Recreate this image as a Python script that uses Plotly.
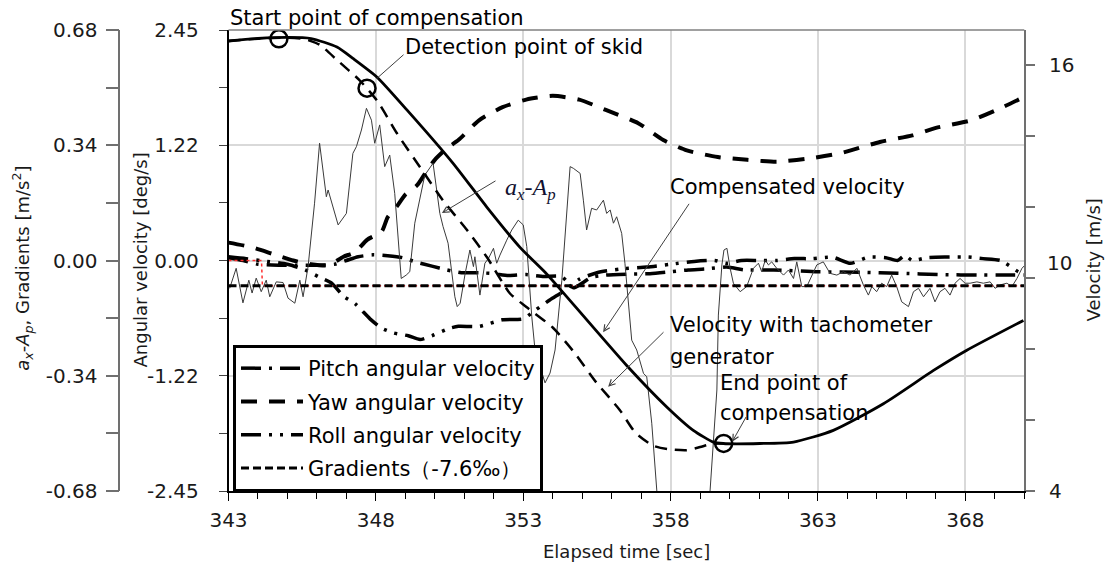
import plotly.graph_objects as go

# ---------------- data ----------------
# a_x - A_p  [m/s^2]  (outer left axis)
t_acc = [343.04, 343.26, 343.49, 343.69, 343.80, 343.94, 344.11, 344.28, 344.40, 344.62,
         344.85, 345.02, 345.25, 345.42, 345.53, 345.70, 345.92, 346.09, 346.32, 346.38,
         346.72, 347.00, 347.22, 347.34, 347.51, 347.68, 347.85, 347.96, 348.13, 348.30,
         348.47, 348.64, 348.86, 349.03, 349.15, 349.32, 349.66, 349.94, 350.17, 350.28,
         350.45, 350.68, 350.76, 350.86, 351.03, 351.19, 351.31, 351.36, 351.53, 351.70,
         351.82, 351.99, 352.10, 352.21, 352.44, 352.61, 352.83, 353.00, 353.12, 353.29,
         353.40, 353.74, 353.91, 354.08, 354.31, 354.59, 354.70, 354.93, 355.04, 355.15,
         355.32, 355.49, 355.72, 355.83, 355.95, 356.06, 356.17, 356.34, 356.45, 356.57,
         356.68, 356.85, 357.08, 357.19, 357.36, 357.53, 357.90, 358.50, 359.10, 359.34,
         359.57, 359.62, 359.74, 359.81, 359.91, 360.02, 360.13, 360.36, 360.58, 360.81,
         360.98, 361.09, 361.21, 361.32, 361.43, 361.60, 361.83, 362.00, 362.17, 362.28,
         362.45, 362.62, 362.79, 362.96, 363.18, 363.41, 363.64, 363.86, 364.09, 364.32,
         364.54, 364.71, 364.83, 364.99, 365.16, 365.33, 365.50, 365.67, 365.84, 366.07,
         366.24, 366.41, 366.58, 366.80, 366.97, 367.14, 367.31, 367.48, 367.65, 367.82,
         367.99, 368.16, 368.39, 368.61, 368.84, 369.01, 369.18, 369.41, 369.58, 369.75,
         369.92, 370.03]
acc = [-0.082, -0.023, -0.125, -0.058, -0.096, -0.052, -0.092, -0.058, -0.107, -0.063,
       -0.065, -0.111, -0.126, -0.058, -0.107, -0.018, 0.169, 0.346, 0.188, 0.208,
       0.105, 0.139, 0.316, 0.336, 0.385, 0.449, 0.414, 0.346, 0.400, 0.277,
       0.311, 0.198, -0.053, -0.043, -0.033, 0.110, 0.252, 0.287, 0.139, 0.100,
       0.051, -0.107, -0.136, -0.126, -0.038, 0.031, -0.018, 0.011, -0.102, -0.008,
       0.006, 0.036, -0.008, 0.016, 0.060, 0.090, 0.119, 0.105, 0.041, -0.166,
       -0.264, -0.361, -0.332, -0.264, -0.058, 0.277, 0.272, 0.257, 0.178, 0.090,
       0.154, 0.149, 0.178, 0.139, 0.149, 0.110, 0.129, 0.080, -0.008, -0.126,
       -0.235, -0.264, -0.333, -0.343, -0.480, -0.677, -1.100, -1.300, -1.050, -0.677,
       -0.382, -0.161, -0.013, 0.031, 0.036, -0.023, -0.067, -0.092, -0.077, -0.023,
       -0.008, -0.033, 0.001, -0.013, -0.004, -0.023, -0.043, -0.028, -0.053, -0.004,
       -0.077, -0.077, -0.043, -0.013, -0.004, -0.038, -0.043, -0.033, -0.043, -0.023,
       -0.072, -0.102, -0.077, -0.092, -0.067, -0.077, -0.043, -0.077, -0.122, -0.136,
       -0.092, -0.082, -0.107, -0.082, -0.122, -0.092, -0.082, -0.102, -0.067, -0.053,
       -0.067, -0.067, -0.063, -0.067, -0.063, -0.082, -0.072, -0.067, -0.077, -0.053,
       -0.023, -0.013]

# track gradient -7.6 per mille -> g * 0.0076
gradient = -0.0745
t_grad = [343, 370]
t_ref = [343, 344.12, 344.15, 370]
ref_acc = [0, 0, gradient, gradient]

# compensated velocity [m/s]
t_vc = [343.0, 344.0, 345.0, 345.8, 346.68, 347.22, 348.04, 349.06, 350.62, 351.77,
        352.89, 353.74, 354.14, 356.51, 357.87, 358.77, 359.45, 359.79, 361.03, 362.17,
        363.52, 365.22, 366.92, 368.05, 369.97]
v_comp = [16.69, 16.76, 16.79, 16.76, 16.52, 16.20, 15.67, 14.74, 13.24, 12.00,
          10.87, 10.17, 9.80, 7.54, 6.37, 5.71, 5.38, 5.34, 5.34, 5.38,
          5.71, 6.46, 7.40, 7.97, 8.81]

# velocity with tachometer generator [m/s]
t_vt = [343.0, 344.0, 345.0, 345.6, 346.1, 346.7, 347.45, 348.04, 348.72, 349.5,
        350.28, 351.1, 351.77, 352.55, 353.12, 354.0, 354.68, 355.47, 356.28, 356.8,
        357.4, 357.9, 358.55, 359.0, 359.4, 359.8]
v_tach = [16.69, 16.76, 16.78, 16.74, 16.58, 16.14, 15.58, 15.01, 14.08, 13.13,
          12.19, 11.35, 10.59, 9.57, 9.18, 8.61, 7.96, 7.07, 6.28, 5.65,
          5.28, 5.18, 5.15, 5.24, 5.33, 5.35]

# yaw angular velocity [deg/s]
t_yaw = [343.0, 343.8, 344.5, 345.2, 345.8, 346.4, 346.9, 347.3, 347.7, 348.2,
         348.4, 348.7, 349.0, 349.4, 349.7, 350.0, 350.4, 350.8, 351.5, 352.3,
         353.1, 354.0, 354.9, 355.8, 356.9, 357.75, 358.55, 359.6, 360.6, 361.6,
         362.6, 363.75, 365.1, 366.2, 367.0, 368.2, 369.2, 370.0]
yaw = [0.19, 0.14, 0.07, 0.00, -0.04, -0.05, 0.04, 0.09, 0.22, 0.31,
       0.46, 0.57, 0.70, 0.80, 0.94, 1.07, 1.19, 1.28, 1.49, 1.63,
       1.71, 1.75, 1.71, 1.60, 1.46, 1.28, 1.17, 1.10, 1.07, 1.05,
       1.08, 1.14, 1.26, 1.33, 1.41, 1.49, 1.62, 1.74]

# pitch angular velocity [deg/s]
t_pitch = [343.0, 343.5, 344.0, 344.7, 345.3, 346.0, 346.6, 347.0, 347.4, 347.9,
           348.4, 348.9, 349.4, 349.9, 350.4, 350.9, 351.5, 352.0, 352.5, 353.1,
           353.7, 354.3, 354.7, 355.0, 355.3, 355.8, 356.5, 357.3, 358.0, 358.6,
           359.2, 359.9, 360.5, 361.5, 363.0, 364.5, 365.7, 367.2, 368.5, 370.0]
pitch = [0.03, 0.00, -0.04, -0.05, -0.05, -0.05, -0.04, 0.00, 0.04, 0.06,
         0.05, 0.03, -0.02, -0.06, -0.10, -0.13, -0.13, -0.14, -0.16, -0.15,
         -0.17, -0.17, -0.29, -0.24, -0.18, -0.155, -0.145, -0.14, -0.12, -0.10,
         -0.09, -0.07, -0.10, -0.10, -0.12, -0.125, -0.135, -0.15, -0.155, -0.155]

# roll angular velocity [deg/s]
t_roll = [343.0, 343.6, 344.3, 345.0, 345.6, 346.1, 346.5, 346.9, 347.3, 347.8,
          348.2, 348.6, 349.1, 349.5, 349.9, 350.5, 350.8, 351.5, 352.3, 353.0,
          353.4, 353.9, 354.4, 354.9, 355.5, 356.3, 357.2, 358.0, 358.8, 359.5,
          359.9, 360.4, 361.0, 361.6, 362.2, 362.8, 363.5, 364.1, 364.7, 365.3,
          365.7, 365.95, 366.2, 366.7, 367.3, 368.1, 368.6, 369.2, 369.8, 370.0]
roll = [0.04, 0.02, -0.01, -0.04, -0.10, -0.18, -0.24, -0.38, -0.46, -0.62,
        -0.72, -0.77, -0.80, -0.84, -0.80, -0.72, -0.70, -0.70, -0.63, -0.62,
        -0.53, -0.42, -0.32, -0.20, -0.13, -0.09, -0.07, -0.04, -0.01, 0.00,
        -0.03, 0.00, 0.00, 0.00, 0.02, 0.02, 0.035, -0.03, 0.035, 0.03,
        0.00, 0.055, 0.00, 0.03, 0.037, 0.037, 0.02, 0.00, -0.12, -0.14]

# marked points: start of compensation, detection of skid, end of compensation
t_marks = [344.71, 347.70, 359.80]
v_marks = [16.75, 15.36, 5.34]

# axis ticks
x_ticks = [343, 348, 353, 358, 363, 368]
ang_ticks = [-2.45, -1.225, 0, 1.225, 2.45]
ang_text = ["-2.45", "-1.22", "0.00", "1.22", "2.45"]
acc_ticks = [-0.68, -0.34, 0, 0.34, 0.68]
acc_text = ["-0.68", "-0.34", "0.00", "0.34", "0.68"]
vel_ticks = [4, 16]
vel_minor = [6, 8, 10, 12, 14]

FONT = "DejaVu Sans"
fig = go.Figure()

# measured a_x - A_p
fig.add_trace(go.Scatter(x=t_acc, y=acc, yaxis="y2", mode="lines",
                         line=dict(color="#3a3a3a", width=1), showlegend=False))
# reference level (red dotted)
fig.add_trace(go.Scatter(x=t_ref, y=ref_acc, yaxis="y2", mode="lines",
                         line=dict(color="#ff3030", width=1.5, dash="dot"), showlegend=False))
# gradient
fig.add_trace(go.Scatter(x=t_grad, y=[gradient, gradient], yaxis="y2", mode="lines",
                         name="Gradients\uff08-7.6\u2030\uff09", legendgroup="g4", legendrank=4,
                         line=dict(color="black", width=3, dash="8px,4px")))
# angular velocities
fig.add_trace(go.Scatter(x=t_pitch, y=pitch, mode="lines", name="Pitch angular velocity",
                         legendgroup="g1", legendrank=1,
                         line=dict(color="black", width=3.5, dash="20px,8px,3px,8px",
                                   shape="spline", smoothing=0.6)))
fig.add_trace(go.Scatter(x=t_roll, y=roll, mode="lines", name="Roll angular velocity",
                         legendgroup="g3", legendrank=3,
                         line=dict(color="black", width=3.5, dash="20px,8px,3px,8px,3px,8px",
                                   shape="spline", smoothing=0.6)))
fig.add_trace(go.Scatter(x=t_yaw, y=yaw, mode="lines", name="Yaw angular velocity",
                         legendgroup="g2", legendrank=2,
                         line=dict(color="black", width=4, dash="16px,12px",
                                   shape="spline", smoothing=0.6)))
# velocities
fig.add_trace(go.Scatter(x=t_vt, y=v_tach, yaxis="y3", mode="lines", showlegend=False,
                         line=dict(color="black", width=2.5, dash="12px,8px",
                                   shape="spline", smoothing=0.6)))
fig.add_trace(go.Scatter(x=t_vc, y=v_comp, yaxis="y3", mode="lines", showlegend=False,
                         line=dict(color="black", width=2.8, shape="spline", smoothing=0.6)))
fig.add_trace(go.Scatter(x=t_marks, y=v_marks, yaxis="y3", mode="markers", showlegend=False,
                         marker=dict(symbol="circle-open", size=17, color="black",
                                     line=dict(width=2.5, color="black"))))

X0, X1 = 228.5 / 1112, 1024.3 / 1112
TICKFONT = dict(family=FONT, size=20, color="#1a1a1a")
fig.update_layout(
    width=1112, height=567,
    margin=dict(l=0, r=0, t=30, b=76, autoexpand=False),
    paper_bgcolor="white", plot_bgcolor="white",
    font=dict(family=FONT, size=20, color="#1a1a1a"),
    xaxis=dict(domain=[X0, X1], range=[343, 370], tickmode="array", tickvals=x_ticks,
               automargin=False, tickfont=TICKFONT,
               ticks="outside", ticklen=8, tickcolor="black", tickwidth=1.2,
               showline=True, linecolor="black", linewidth=1.5,
               showgrid=True, gridcolor="#d9d9d9", gridwidth=1.5, zeroline=False,
               ticklabelstandoff=2,
               minor=dict(dtick=1, tick0=343, ticks="outside", ticklen=6,
                          tickcolor="black", tickwidth=1.2, showgrid=False)),
    yaxis=dict(range=[-2.45, 2.45], tickmode="array", tickvals=ang_ticks, ticktext=ang_text,
               automargin=False, tickfont=TICKFONT,
               ticks="outside", ticklen=8, tickcolor="#404040", tickwidth=1.2,
               showline=True, linecolor="black", linewidth=1.5,
               showgrid=True, gridcolor="#d9d9d9", gridwidth=1.5, zeroline=False,
               ticklabelstandoff=16,
               minor=dict(tickmode="array", tickvals=[-1.8375, -0.6125, 0.6125, 1.8375],
                          ticks="outside", ticklen=8, tickcolor="#404040", tickwidth=1.2,
                          showgrid=False)),
    yaxis2=dict(overlaying="y", anchor="free", position=119.3 / 1112, side="left",
                range=[-0.68, 0.68], tickmode="array", tickvals=acc_ticks, ticktext=acc_text,
                automargin=False, tickfont=TICKFONT,
                ticks="outside", ticklen=13, tickcolor="#707070", tickwidth=1.5,
                showline=True, linecolor="#707070", linewidth=1.5,
                showgrid=False, zeroline=False, ticklabelstandoff=4,
                minor=dict(tickmode="array", tickvals=[-0.51, -0.17, 0.17, 0.51],
                           ticks="outside", ticklen=13, tickcolor="#707070", tickwidth=1.5)),
    yaxis3=dict(overlaying="y", anchor="x", side="right", range=[4, 17],
                tickmode="array", tickvals=vel_ticks,
                automargin=False, tickfont=TICKFONT,
                ticks="outside", ticklen=9, tickcolor="#707070", tickwidth=1.5,
                showline=True, linecolor="#707070", linewidth=1.5,
                showgrid=False, zeroline=False, ticklabelstandoff=10,
                minor=dict(tickmode="array", tickvals=vel_minor, ticks="outside",
                           ticklen=9, tickcolor="#707070", tickwidth=1.5)),
    legend=dict(x=233 / 1112, y=(491 - 345) / 461, xanchor="left", yanchor="top",
                bgcolor="white", bordercolor="black", borderwidth=3,
                font=dict(family=FONT, size=21, color="black"),
                itemwidth=62, tracegroupgap=3, traceorder="grouped"),
)

# frame top edge
fig.add_shape(type="line", xref="x domain", yref="y domain", x0=0, x1=1, y0=1, y1=1,
              line=dict(color="#808080", width=1.5))

txt = dict(showarrow=False, xref="paper", yref="paper", xanchor="left", yanchor="middle",
           font=dict(family=FONT, size=21, color="black"))
fig.add_annotation(text="Start point of compensation", x=0.205, y=1.026, **txt)
fig.add_annotation(text="Detection point of skid", x=0.3624, y=0.963, **txt)
fig.add_annotation(text="Compensated velocity", x=0.6007, y=0.659, **txt)
fig.add_annotation(text="Velocity with tachometer", x=0.6007, y=0.360, **txt)
fig.add_annotation(text="generator", x=0.6007, y=0.2907, **txt)
fig.add_annotation(text="End point of", x=0.6457, y=0.2343, **txt)
fig.add_annotation(text="compensation", x=0.6457, y=0.1692, **txt)
fig.add_annotation(text="<i>a<sub>x</sub></i>-<i>A<sub>p</sub></i>", x=0.4523, y=0.655,
                   showarrow=False, xref="paper", yref="paper", xanchor="left",
                   yanchor="middle", font=dict(family="Liberation Serif", size=24, color="#101030"))
fig.add_annotation(text="10", x=1045 / 1112, y=0.4946, showarrow=False, xref="paper",
                   yref="paper", xanchor="left", yanchor="middle", font=TICKFONT)

# pointer lines
arr = dict(text="", showarrow=True, arrowcolor="#404040", arrowwidth=1, arrowsize=1.2,
           standoff=0, xref="x", axref="x")
fig.add_annotation(x=348.04, y=15.64, ax=348.99, ay=16.34, yref="y3", ayref="y3",
                   arrowhead=0, **arr)
fig.add_annotation(x=355.71, y=8.48, ax=358.66, ay=12.14, yref="y3", ayref="y3",
                   arrowhead=5, **arr)
fig.add_annotation(x=355.88, y=6.94, ax=357.81, ay=8.52, yref="y3", ayref="y3",
                   arrowhead=5, **arr)
fig.add_annotation(x=360.09, y=5.39, ax=360.59, ay=6.13, yref="y3", ayref="y3",
                   arrowhead=5, **arr)
fig.add_annotation(x=350.24, y=0.140, ax=352.11, ay=0.2375, yref="y2", ayref="y2",
                   arrowhead=5, **arr)

# axis titles
ttl = dict(showarrow=False, xref="paper", yref="paper", xanchor="center", yanchor="middle",
           font=dict(family=FONT, size=18, color="#1a1a1a"))
fig.add_annotation(text="<i>a<sub>x</sub></i>-<i>A<sub>p</sub></i>, Gradients [m/s<sup>2</sup>]",
                   x=22 / 1112, y=0.482, textangle=-90, **ttl)
fig.add_annotation(text="Angular velocity [deg/s]", x=140 / 1112, y=0.5, textangle=-90, **ttl)
fig.add_annotation(text="Velocity [m/s]", x=1093 / 1112, y=0.5, textangle=-90, **ttl)
fig.add_annotation(text="Elapsed time [sec]", x=626 / 1112, y=-0.132, **ttl)

fig.write_html("out.html")
